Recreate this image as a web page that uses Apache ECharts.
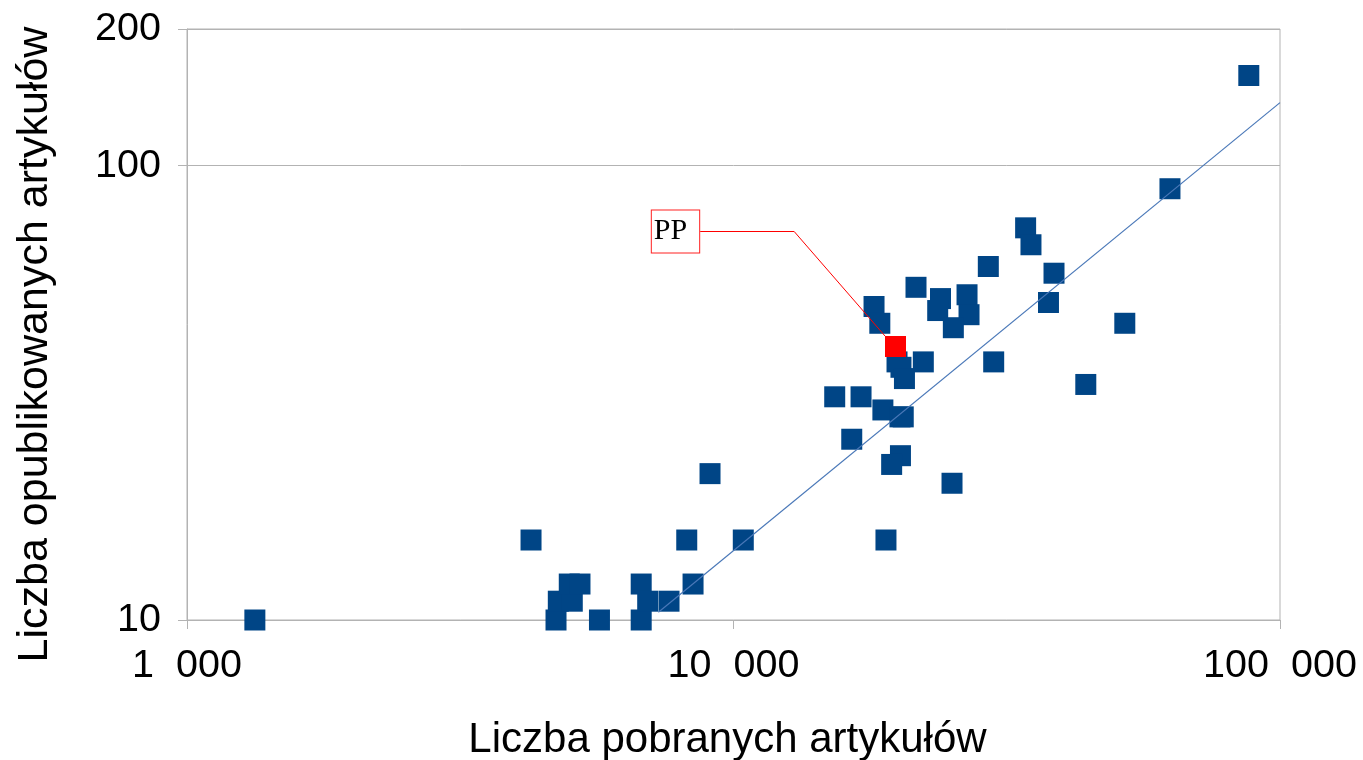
<!DOCTYPE html>
<html>
<head>
<meta charset="utf-8">
<script src="https://cdn.jsdelivr.net/npm/echarts@6/dist/echarts.min.js"></script>
<style>
	html, body { margin: 0; padding: 0; background: #fff; }
	#chart { width: 1363px; height: 760px; }
</style>
</head>
<body>
<div id="chart"></div>
<script>
// liczba pobranych artykulow (x) / liczba opublikowanych artykulow (y)
var downloads = [1331, 4261, 4734, 4780, 5070, 5006, 5237, 5685, 6778, 6778, 6966, 7621, 8433, 8212, 10421, 9058,
	15318, 17115, 16458, 18765, 20165, 20446, 20207, 19471, 19010, 18078, 18524, 19916, 22250, 20250, 20550,
	21575, 23920, 23640, 26750, 26975, 25250, 25110, 29260, 29930, 34240, 35020, 38590, 37700, 44120, 52000,
	62900, 87680];
var published = [10, 15, 10, 11, 11, 12, 12, 10, 10, 12, 11, 11, 12, 15, 15, 21,
	31, 31, 25, 29, 28, 28, 23, 22, 15, 49, 45, 37, 37, 36, 34,
	54, 51, 48, 52, 47, 44, 20, 60, 37, 73, 67, 58, 50, 33, 45,
	89, 158];

// wyrozniony punkt
var ppName = ['PP'];
var ppDownloads = [19789];
var ppPublished = [40];

// linia trendu (potegowa)
var trendX = [7286, 100000];
var trendY = [10.4, 137.7];

var xTicks = [1000, 10000, 100000];
var yTicks = [10, 100, 200];

function toPairs(xs, ys) {
	var out = [];
	for (var i = 0; i < xs.length; i++) {
		out.push([xs[i], ys[i]]);
	}
	return out;
}

// separator tysiecy szerokosci cyfry
function spaced(v) {
	return String(Math.round(v)).replace(/\B(?=(\d{3})+(?!\d))/g, '  ');
}

var gray = '#b3b3b3';
var font = 'Liberation Sans';

var option = {
	animation: false,
	backgroundColor: '#fff',
	grid: {
		left: 187,
		right: 83,
		top: 29,
		bottom: 140,
		outerBoundsMode: 'none',
		show: true,
		borderColor: gray,
		borderWidth: 1
	},
	xAxis: {
		type: 'log',
		logBase: 10,
		min: xTicks[0],
		max: xTicks[xTicks.length - 1],
		name: 'Liczba pobranych artykułów',
		nameLocation: 'middle',
		nameGap: 99,
		nameTextStyle: { fontFamily: font, fontSize: 42, color: '#000', padding: [0, 12, 0, 0] },
		axisLine: { lineStyle: { color: gray } },
		axisTick: { show: true, length: 9, lineStyle: { color: gray } },
		axisLabel: {
			fontFamily: font, fontSize: 39.5, color: '#000', margin: 26,
			formatter: function (v) { return spaced(v); }
		},
		splitLine: { show: false },
		minorTick: { show: false }
	},
	yAxis: {
		type: 'log',
		logBase: 10,
		min: yTicks[0],
		max: yTicks[yTicks.length - 1],
		name: 'Liczba opublikowanych artykułów',
		nameLocation: 'middle',
		nameGap: 130,
		nameTextStyle: { fontFamily: font, fontSize: 43, color: '#000', padding: [0, 40, 0, 0] },
		axisLine: { show: true, lineStyle: { color: gray } },
		axisTick: { show: true, length: 9, lineStyle: { color: gray } },
		axisLabel: {
			fontFamily: font, fontSize: 39.5, color: '#000', margin: 26,
			formatter: function (v) { return spaced(v); }
		},
		splitLine: { show: true, lineStyle: { color: gray } }
	},
	series: [
		{
			type: 'scatter',
			symbol: 'rect',
			symbolSize: 21,
			itemStyle: { color: '#004586', opacity: 1 },
			data: toPairs(downloads, published),
			z: 2
		},
		{
			type: 'line',
			data: toPairs(trendX, trendY),
			showSymbol: false,
			symbol: 'none',
			lineStyle: { color: '#4a78b8', width: 1.2 },
			silent: true,
			z: 3
		},
		{
			type: 'scatter',
			symbol: 'rect',
			symbolSize: 21,
			itemStyle: { color: '#ff0000', opacity: 1 },
			data: toPairs(ppDownloads, ppPublished),
			label: {
				show: true,
				position: 'inside',
				formatter: function () { return ppName[0]; },
				fontFamily: 'Liberation Serif',
				fontSize: 30,
				color: '#000',
				backgroundColor: '#fff',
				borderColor: '#ff2020',
				borderWidth: 1,
				padding: [7, 12, 5, 2]
			},
			labelLayout: { dx: -220, dy: -115 },
			labelLine: {
				show: true,
				length2: 94,
				lineStyle: { color: '#ff0000', width: 1 }
			},
			z: 4
		}
	]
};

var chart = echarts.init(document.getElementById('chart'));
chart.setOption(option);
</script>
</body>
</html>
